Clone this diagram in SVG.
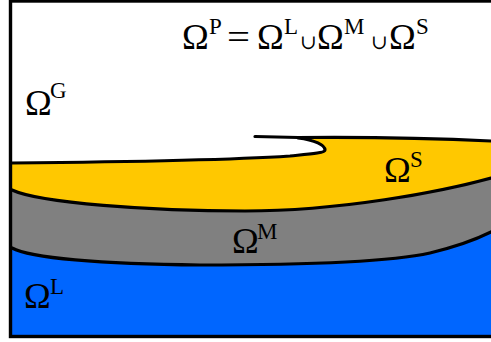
<svg xmlns="http://www.w3.org/2000/svg" width="491" height="342" viewBox="0 0 491 342">
<style>
.big{font-family:"Liberation Serif","DejaVu Serif",serif;font-size:36px;fill:#000}
.sup{font-family:"Liberation Serif","DejaVu Serif",serif;font-size:23px;fill:#000}
.op{font-family:"DejaVu Serif",serif;font-size:20px;fill:#000}
.edge{fill:none;stroke:#000;stroke-width:3.2;stroke-linejoin:round;stroke-linecap:round}
</style>
<rect x="0" y="0" width="491" height="342" fill="#fff"/>
<g id="layer-L"><rect x="12" y="220" width="479" height="116" fill="#0066FF"/></g>
<g id="layer-M"><path d="M12,180 L491,170 L491,232 C475,240 455,247 430,253 C390,262 300,265 200,265 C100,264 30,258 12,248 Z" fill="#808080"/></g>
<g id="layer-S"><path d="M12,163 C120,162 230,160 290,156 C310,154 325,153 325,150 C325,145 315,140 298,138 C350,137 430,138 491,141 L491,178 C440,192 340,211 245,211 C150,211 40,203 12,190 Z" fill="#FFC800"/></g>
<g id="connectors">
<path class="edge" d="M255,136.5 L298,137.5 C350,137 430,138 491,141"/>
<path class="edge" d="M298,138 C315,140 325,145 325,150 C325,153 310,154 290,156 C230,160 120,162 12,163"/>
<path class="edge" d="M491,178 C440,192 340,211 245,211 C150,211 40,203 12,190"/>
<path class="edge" stroke-width="3.6" d="M12,248 C30,258 100,264 200,265 C300,265 390,262 430,253 C455,247 475,240 491,232"/>
</g>
<rect x="10.5" y="1" width="500" height="335.5" fill="none" stroke="#000" stroke-width="3.4"/>
<g id="formula">
<text class="big" x="182" y="49">Ω</text><text class="sup" x="209" y="34">P</text>
<text class="big" x="227" y="49" textLength="23" lengthAdjust="spacingAndGlyphs">=</text>
<text class="big" x="257" y="49">Ω</text><text class="sup" x="284" y="34">L</text>
<text class="op" x="300" y="49">∪</text>
<text class="big" x="317" y="49">Ω</text><text class="sup" x="344" y="34">M</text>
<text class="op" x="371" y="49">∪</text>
<text class="big" x="389" y="49">Ω</text><text class="sup" x="416" y="34">S</text>
</g>
<g id="label-G"><text class="big" x="25" y="115">Ω</text><text class="sup" x="50" y="98">G</text></g>
<g id="label-S"><text class="big" x="384" y="182">Ω</text><text class="sup" x="410" y="167">S</text></g>
<g id="label-M"><text class="big" x="232" y="253">Ω</text><text class="sup" x="257" y="239">M</text></g>
<g id="label-L"><text class="big" x="24" y="308">Ω</text><text class="sup" x="50" y="294">L</text></g>
</svg>
